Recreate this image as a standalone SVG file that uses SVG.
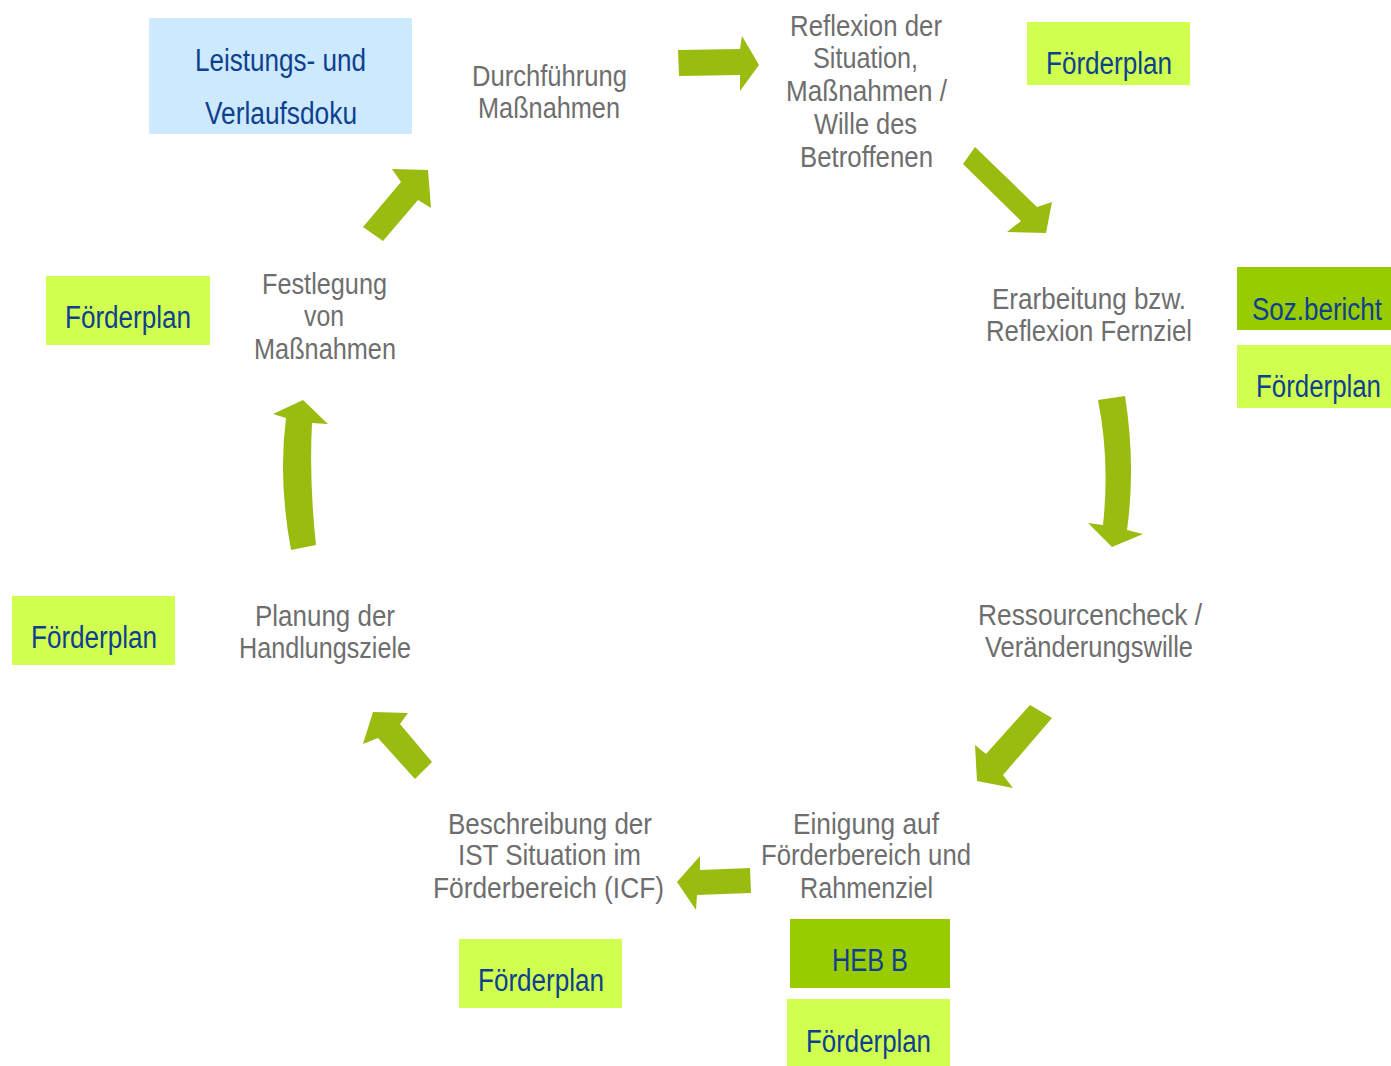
<svg xmlns="http://www.w3.org/2000/svg" width="1391" height="1066" viewBox="0 0 1391 1066">
<style>
.step{font-family:"Liberation Sans",Arial,sans-serif;font-size:30px;fill:#6e6e6e;text-anchor:start}
.lbl{font-family:"Liberation Sans",Arial,sans-serif;font-size:31px;fill:#0f3f8f}
.light{fill:#d0ff50}
.dark{fill:#99cc00}
.blue{fill:#cce9fd}
.arr{fill:#9abb10}
</style>
<rect width="1391" height="1066" fill="#ffffff"/>
<g id="connectors">
<polygon class="arr" points="678,50 740,49 742,36 759,65 740,91 740,75 679,76"/>
<polygon class="arr" points="975,147 1037,207 1052,202 1046,233 1007,232 1021,221 963,164"/>
<path class="arr" d="M1098,400 L1125,396 Q1136,465 1127,530 L1143,534 L1112,547 L1088,523 L1103,525 Q1110,460 1098,400 Z"/>
<polygon class="arr" points="1030,705 1052,718 1003,775 1013,788 977,781 975,745 986,754"/>
<polygon class="arr" points="750,868 700,870 700,856 677,882 696,910 697,895 751,893"/>
<polygon class="arr" points="373,712 408,713 400,724 432,762 415,779 378,738 363,744"/>
<path class="arr" d="M303,400 L328,424 L312,423 Q309,480 316,545 L291,550 Q278,480 286,418 L273,414 Z"/>
<polygon class="arr" points="392,169 428,170 431,208 418,200 383,241 363,227 401,182"/>
</g>
<g id="step-durchfuehrung">
<text class="step" x="472" y="86" textLength="155" lengthAdjust="spacingAndGlyphs">Durchführung</text>
<text class="step" x="478" y="118" textLength="142" lengthAdjust="spacingAndGlyphs">Maßnahmen</text>
</g>
<g id="step-reflexion">
<text class="step" x="790" y="36" textLength="152" lengthAdjust="spacingAndGlyphs">Reflexion der</text>
<text class="step" x="813" y="68" textLength="105" lengthAdjust="spacingAndGlyphs">Situation,</text>
<text class="step" x="786" y="101" textLength="161" lengthAdjust="spacingAndGlyphs">Maßnahmen /</text>
<text class="step" x="814" y="134" textLength="103" lengthAdjust="spacingAndGlyphs">Wille des</text>
<text class="step" x="800" y="167" textLength="133" lengthAdjust="spacingAndGlyphs">Betroffenen</text>
</g>
<g id="step-erarbeitung">
<text class="step" x="992" y="309" textLength="194" lengthAdjust="spacingAndGlyphs">Erarbeitung bzw.</text>
<text class="step" x="986" y="341" textLength="206" lengthAdjust="spacingAndGlyphs">Reflexion Fernziel</text>
</g>
<g id="step-ressourcen">
<text class="step" x="978" y="625" textLength="224" lengthAdjust="spacingAndGlyphs">Ressourcencheck /</text>
<text class="step" x="985" y="657" textLength="208" lengthAdjust="spacingAndGlyphs">Veränderungswille</text>
</g>
<g id="step-einigung">
<text class="step" x="793" y="834" textLength="146" lengthAdjust="spacingAndGlyphs">Einigung auf</text>
<text class="step" x="761" y="865" textLength="210" lengthAdjust="spacingAndGlyphs">Förderbereich und</text>
<text class="step" x="800" y="898" textLength="133" lengthAdjust="spacingAndGlyphs">Rahmenziel</text>
</g>
<g id="step-beschreibung">
<text class="step" x="448" y="834" textLength="204" lengthAdjust="spacingAndGlyphs">Beschreibung der</text>
<text class="step" x="458" y="865" textLength="183" lengthAdjust="spacingAndGlyphs">IST Situation im</text>
<text class="step" x="433" y="898" textLength="231" lengthAdjust="spacingAndGlyphs">Förderbereich (ICF)</text>
</g>
<g id="step-planung">
<text class="step" x="255" y="626" textLength="140" lengthAdjust="spacingAndGlyphs">Planung der</text>
<text class="step" x="239" y="658" textLength="172" lengthAdjust="spacingAndGlyphs">Handlungsziele</text>
</g>
<g id="step-festlegung">
<text class="step" x="262" y="294" textLength="125" lengthAdjust="spacingAndGlyphs">Festlegung</text>
<text class="step" x="304" y="326" textLength="40" lengthAdjust="spacingAndGlyphs">von</text>
<text class="step" x="254" y="359" textLength="142" lengthAdjust="spacingAndGlyphs">Maßnahmen</text>
</g>
<g id="box-leistungsdoku">
<rect class="blue" x="149" y="18" width="263" height="116"/>
<text class="lbl" x="195" y="71" textLength="171" lengthAdjust="spacingAndGlyphs">Leistungs- und</text>
<text class="lbl" x="205" y="124" textLength="152" lengthAdjust="spacingAndGlyphs">Verlaufsdoku</text>
</g>
<g id="box-foerderplan-1">
<rect class="light" x="1027" y="22" width="163" height="63"/>
<text class="lbl" x="1046" y="74" textLength="126" lengthAdjust="spacingAndGlyphs">Förderplan</text>
</g>
<g id="box-sozbericht">
<rect class="dark" x="1237" y="267" width="154" height="63"/>
<text class="lbl" x="1252" y="320" textLength="130" lengthAdjust="spacingAndGlyphs">Soz.bericht</text>
</g>
<g id="box-foerderplan-2">
<rect class="light" x="1237" y="345" width="154" height="63"/>
<text class="lbl" x="1256" y="397" textLength="125" lengthAdjust="spacingAndGlyphs">Förderplan</text>
</g>
<g id="box-foerderplan-3">
<rect class="light" x="46" y="276" width="164" height="69"/>
<text class="lbl" x="65" y="328" textLength="126" lengthAdjust="spacingAndGlyphs">Förderplan</text>
</g>
<g id="box-foerderplan-4">
<rect class="light" x="12" y="596" width="163" height="69"/>
<text class="lbl" x="31" y="648" textLength="126" lengthAdjust="spacingAndGlyphs">Förderplan</text>
</g>
<g id="box-foerderplan-5">
<rect class="light" x="459" y="939" width="163" height="69"/>
<text class="lbl" x="478" y="991" textLength="126" lengthAdjust="spacingAndGlyphs">Förderplan</text>
</g>
<g id="box-heb">
<rect class="dark" x="790" y="919" width="160" height="69"/>
<text class="lbl" x="832" y="971" textLength="76" lengthAdjust="spacingAndGlyphs">HEB B</text>
</g>
<g id="box-foerderplan-6">
<rect class="light" x="787" y="999" width="163" height="67"/>
<text class="lbl" x="806" y="1052" textLength="125" lengthAdjust="spacingAndGlyphs">Förderplan</text>
</g>
</svg>
